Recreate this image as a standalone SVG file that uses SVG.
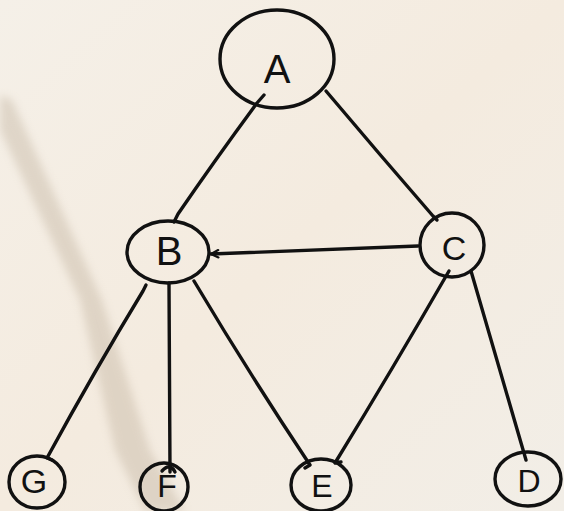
<svg xmlns="http://www.w3.org/2000/svg" width="564" height="511" viewBox="0 0 564 511">
  <defs>
    <style>
      .ink { fill: none; stroke: #111; stroke-width: 3.4; stroke-linecap: round; stroke-linejoin: round; }
      .lbl { font-family: "Liberation Sans", Arial, sans-serif; fill: #111; text-anchor: middle; }
    </style>
    <linearGradient id="paper" x1="0" y1="0" x2="1" y2="1">
      <stop offset="0" stop-color="#f5f0e8"/>
      <stop offset="0.5" stop-color="#f4ebdf"/>
      <stop offset="1" stop-color="#f2eee7"/>
    </linearGradient>
    <filter id="soft" x="-20%" y="-20%" width="140%" height="140%">
      <feGaussianBlur stdDeviation="4"/>
    </filter>
    <marker id="head" viewBox="0 0 12 12" refX="10" refY="6" markerWidth="11" markerHeight="11" orient="auto" markerUnits="userSpaceOnUse">
      <path d="M2 2 L10 6 L2 10" fill="none" stroke="#111" stroke-width="2.4" stroke-linecap="round" stroke-linejoin="round"/>
    </marker>
  </defs>

  <!-- paper with a faint diagonal shadow -->
  <rect width="564" height="511" fill="url(#paper)"/>
  <path d="M0 95 L12 100 L102 300 L150 450 L185 511 L145 511 L115 450 L80 300 L0 130 Z" fill="#bfb09c" opacity="0.4" filter="url(#soft)"/>

  <!-- connectors -->
  <g id="edges">
    <path class="ink" d="M264 95 L257 103 Q215 160 178 214 L174 222"/>
    <path class="ink" d="M326 91 Q380 155 433 216 L437 220"/>
    <path class="ink" d="M418 246 L211 254" marker-end="url(#head)"/>
    <path class="ink" d="M146 285 L143 291 Q95 370 47 458 L52 460"/>
    <path class="ink" d="M169 283 L170 472 M162 471 Q170 462 175 472"/>
    <path class="ink" d="M194 281 Q250 375 310 465 L305 468"/>
    <path class="ink" d="M449 271 Q392 370 335 463 L341 462"/>
    <path class="ink" d="M471 271 Q500 370 526 460"/>
  </g>

  <!-- nodes -->
  <g id="node-A">
    <ellipse class="ink" cx="277" cy="59" rx="57" ry="49"/>
    <text class="lbl" x="277" y="83" font-size="40">A</text>
  </g>
  <g id="node-B">
    <ellipse class="ink" cx="168" cy="252" rx="41" ry="31"/>
    <text class="lbl" x="169" y="265" font-size="40">B</text>
  </g>
  <g id="node-C">
    <ellipse class="ink" cx="452" cy="245" rx="32" ry="32"/>
    <text class="lbl" x="454" y="260" font-size="34">C</text>
  </g>
  <g id="node-G">
    <ellipse class="ink" cx="37" cy="482" rx="28" ry="26"/>
    <text class="lbl" x="34" y="493" font-size="34">G</text>
  </g>
  <g id="node-F">
    <ellipse class="ink" cx="164" cy="487" rx="24" ry="24"/>
    <text class="lbl" x="167" y="497" font-size="32">F</text>
  </g>
  <g id="node-E">
    <ellipse class="ink" cx="321" cy="485" rx="30" ry="26"/>
    <text class="lbl" x="322" y="497" font-size="32">E</text>
  </g>
  <g id="node-D">
    <ellipse class="ink" cx="528" cy="479" rx="33" ry="27"/>
    <text class="lbl" x="529" y="492" font-size="32">D</text>
  </g>
</svg>
